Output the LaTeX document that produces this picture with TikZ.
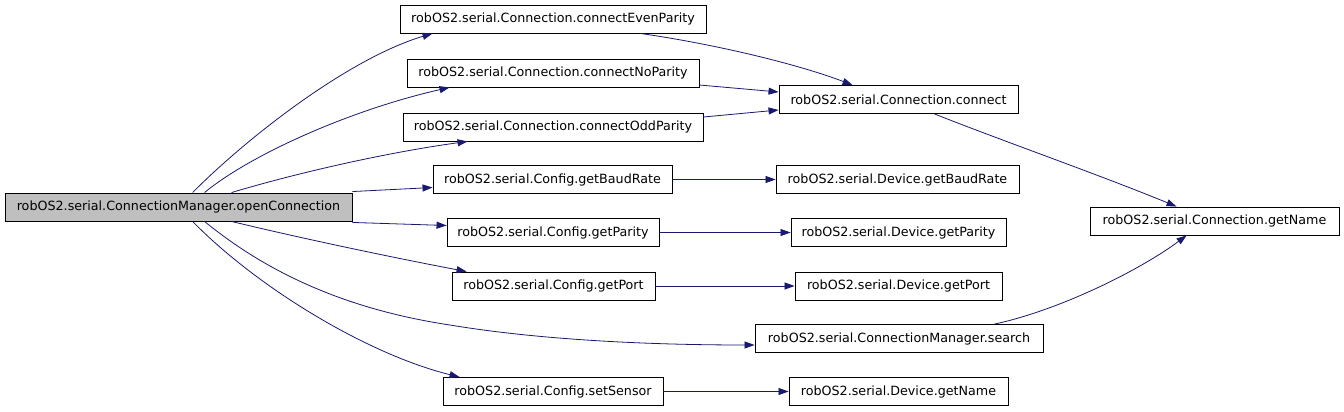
\documentclass[tikz,border=0pt]{standalone}
\usepackage{fontspec}
\setmainfont{DejaVu Sans}
\usetikzlibrary{arrows.meta}
\definecolor{edgeblue}{RGB}{25,25,112}
\definecolor{rootgray}{RGB}{191,191,191}
\begin{document}
\begin{tikzpicture}[x=1pt,y=-1pt,
  fn/.style={draw=black, line width=0.9pt, fill=white, inner sep=0pt, minimum height=28pt,
    font=\fontsize{12.7}{14}\selectfont},
  call/.style={draw=edgeblue, line width=0.8pt, -{Triangle[length=10pt,width=7pt]}, fill=none}]
\useasboundingbox (0,0) rectangle (1344,412);
\fill[white] (0,0) rectangle (1344,412);
% nodes
\node[fn, fill=rootgray, minimum width=347pt] (open) at (178.5,207) {robOS2.serial.ConnectionManager.openConnection};
\node[fn, minimum width=306pt] (even) at (553,19) {robOS2.serial.Connection.connectEvenParity};
\node[fn, minimum width=292pt] (nopar) at (553,73) {robOS2.serial.Connection.connectNoParity};
\node[fn, minimum width=300pt] (odd) at (553,127) {robOS2.serial.Connection.connectOddParity};
\node[fn, minimum width=239pt] (cbaud) at (552.5,179.5) {robOS2.serial.Config.getBaudRate};
\node[fn, minimum width=212pt] (cpar) at (553,232.5) {robOS2.serial.Config.getParity};
\node[fn, minimum width=203pt] (cport) at (553.5,286) {robOS2.serial.Config.getPort};
\node[fn, minimum width=288pt] (search) at (899,338.5) {robOS2.serial.ConnectionManager.search};
\node[fn, minimum width=220pt] (sens) at (553,391.5) {robOS2.serial.Config.setSensor};
\node[fn, minimum width=239pt] (conn) at (898.5,99.5) {robOS2.serial.Connection.connect};
\node[fn, minimum width=243pt] (dbaud) at (897.5,179.5) {robOS2.serial.Device.getBaudRate};
\node[fn, minimum width=215pt] (dpar) at (898.5,232.5) {robOS2.serial.Device.getParity};
\node[fn, minimum width=207pt] (dport) at (898.5,286) {robOS2.serial.Device.getPort};
\node[fn, minimum width=219pt] (dname) at (898.5,391.5) {robOS2.serial.Device.getName};
\node[fn, minimum width=249pt] (cname) at (1214.5,221) {robOS2.serial.Connection.getName};
% edges from openConnection
\draw[call] ([xshift=188pt]open.north west) .. controls (250,135) and (350,58) .. ([xshift=33pt]even.south west);
\draw[call] ([xshift=200pt]open.north west) .. controls (250,155) and (350,110) .. ([xshift=43pt]nopar.south west);
\draw[call] ([xshift=227pt]open.north west) .. controls (300,172) and (390,152) .. ([xshift=65pt]odd.south west);
\draw[call] ([yshift=1pt]open.north east) -- ([yshift=-8pt]cbaud.west);
\draw[call] ([yshift=-1pt]open.south east) -- ([yshift=7pt]cpar.west);
\draw[call] ([xshift=227pt]open.south west) .. controls (300,238) and (390,257) .. ([xshift=15pt]cport.north west);
\draw[call] ([xshift=200pt]open.south west) .. controls (270,275) and (350,310) .. (450,325) .. controls (540,340) and (650,345) .. ([yshift=-6.5pt]search.west);
\draw[call] ([xshift=188pt]open.south west) .. controls (260,290) and (370,355) .. ([xshift=17pt]sens.north west);
% edges into connect
\draw[call] ([xshift=-66pt]even.south east) .. controls (720,45) and (800,65) .. ([xshift=74pt]conn.north west);
\draw[call] ([yshift=-12pt]nopar.east) -- ([yshift=7.5pt]conn.west);
\draw[call] ([yshift=10pt]odd.east) -- ([yshift=-10.5pt]conn.west);
% edges into Connection.getName
\draw[call] ([xshift=156pt]conn.south west) .. controls (1000,140) and (1100,175) .. ([xshift=87pt]cname.north west);
\draw[call] ([xshift=240pt]search.north west) .. controls (1060,310) and (1140,270) .. ([xshift=97pt]cname.south west);
% Config -> Device
\draw[call] (cbaud.east) -- (dbaud.west);
\draw[call] (cpar.east) -- (dpar.west);
\draw[call] (cport.east) -- (dport.west);
\draw[call] (sens.east) -- (dname.west);
\end{tikzpicture}
\end{document}
